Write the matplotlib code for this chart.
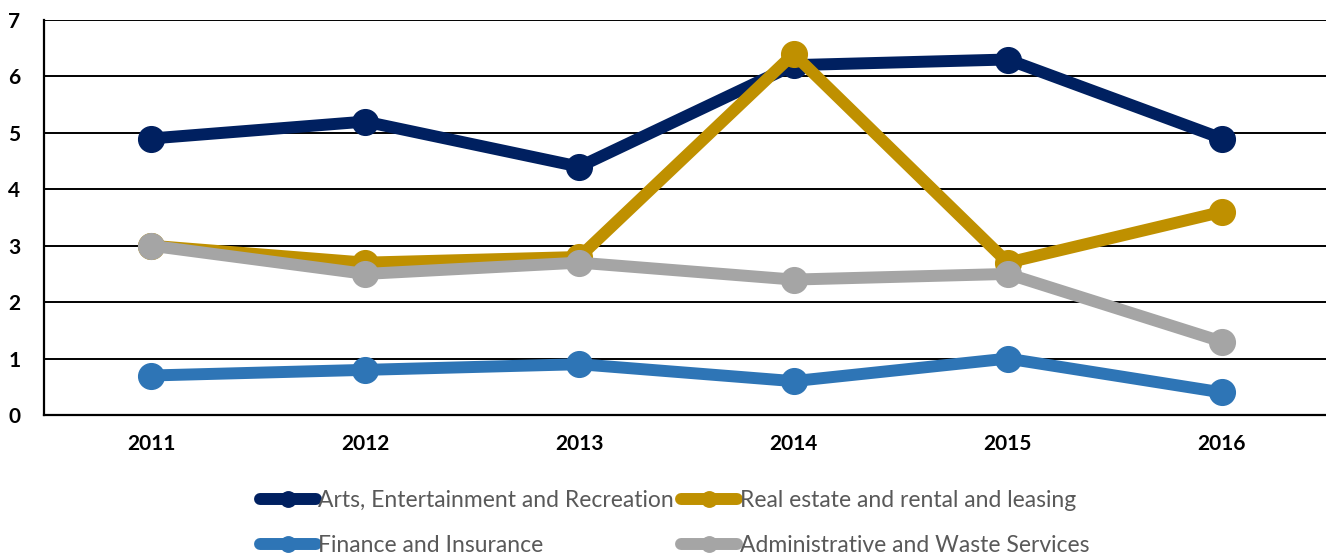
import matplotlib
matplotlib.use("Agg")
import matplotlib.pyplot as plt

years = ["2011", "2012", "2013", "2014", "2015", "2016"]
arts = [4.9, 5.2, 4.4, 6.2, 6.3, 4.9]
real_estate = [3.0, 2.7, 2.8, 6.4, 2.7, 3.6]
finance = [0.7, 0.8, 0.9, 0.6, 1.0, 0.4]
admin = [3.0, 2.5, 2.7, 2.4, 2.5, 1.3]

series = [
    ("Arts, Entertainment and Recreation", arts, "#002060"),
    ("Real estate and rental and leasing", real_estate, "#BF9000"),
    ("Finance and Insurance", finance, "#2E75B6"),
    ("Administrative and Waste Services", admin, "#A5A5A5"),
]

fig = plt.figure(figsize=(13.26, 5.55), dpi=100)
ax = fig.add_axes([44/1326, 1-415/555, 1285/1326, (415-20)/555])

x = list(range(len(years)))
handles = []
for label, vals, color in series:
    h, = ax.plot(x, vals, color=color, lw=8.6, marker="o", ms=18.5,
                 solid_capstyle="round", solid_joinstyle="round", label=label, zorder=3)
    handles.append(h)

ax.set_xlim(-0.5, 5.5)
ax.set_ylim(0, 7)
ax.set_yticks(range(0, 8))
ax.set_xticks(x)
ax.set_xticklabels(years)
ax.yaxis.grid(True, color="black", lw=1.4, zorder=0)
ax.set_axisbelow(True)
for s in ["top", "right"]:
    ax.spines[s].set_visible(False)
for s in ["left", "bottom"]:
    ax.spines[s].set_color("black")
    ax.spines[s].set_linewidth(1.6)
ax.tick_params(axis="both", length=0, labelsize=15)
ax.tick_params(axis="y", pad=17)
ax.tick_params(axis="x", pad=14)
for t in ax.get_xticklabels() + ax.get_yticklabels():
    t.set_fontfamily("Lato")
    t.set_fontweight("bold")
    t.set_color("black")

order = [0, 2, 1, 3]
leg = fig.legend([handles[i] for i in order], [series[i][0] for i in order],
                 loc="upper left", bbox_to_anchor=(260/1326, 1-490/555), ncol=2,
                 frameon=False, prop={"family": "Lato", "size": 16.5},
                 handlelength=2.45, handletextpad=0.1, columnspacing=0.3,
                 labelspacing=1.05, borderpad=0, borderaxespad=0, markerscale=0.6)
for t in leg.get_texts():
    t.set_color("#595959")

fig.savefig("out.png", dpi=100)
